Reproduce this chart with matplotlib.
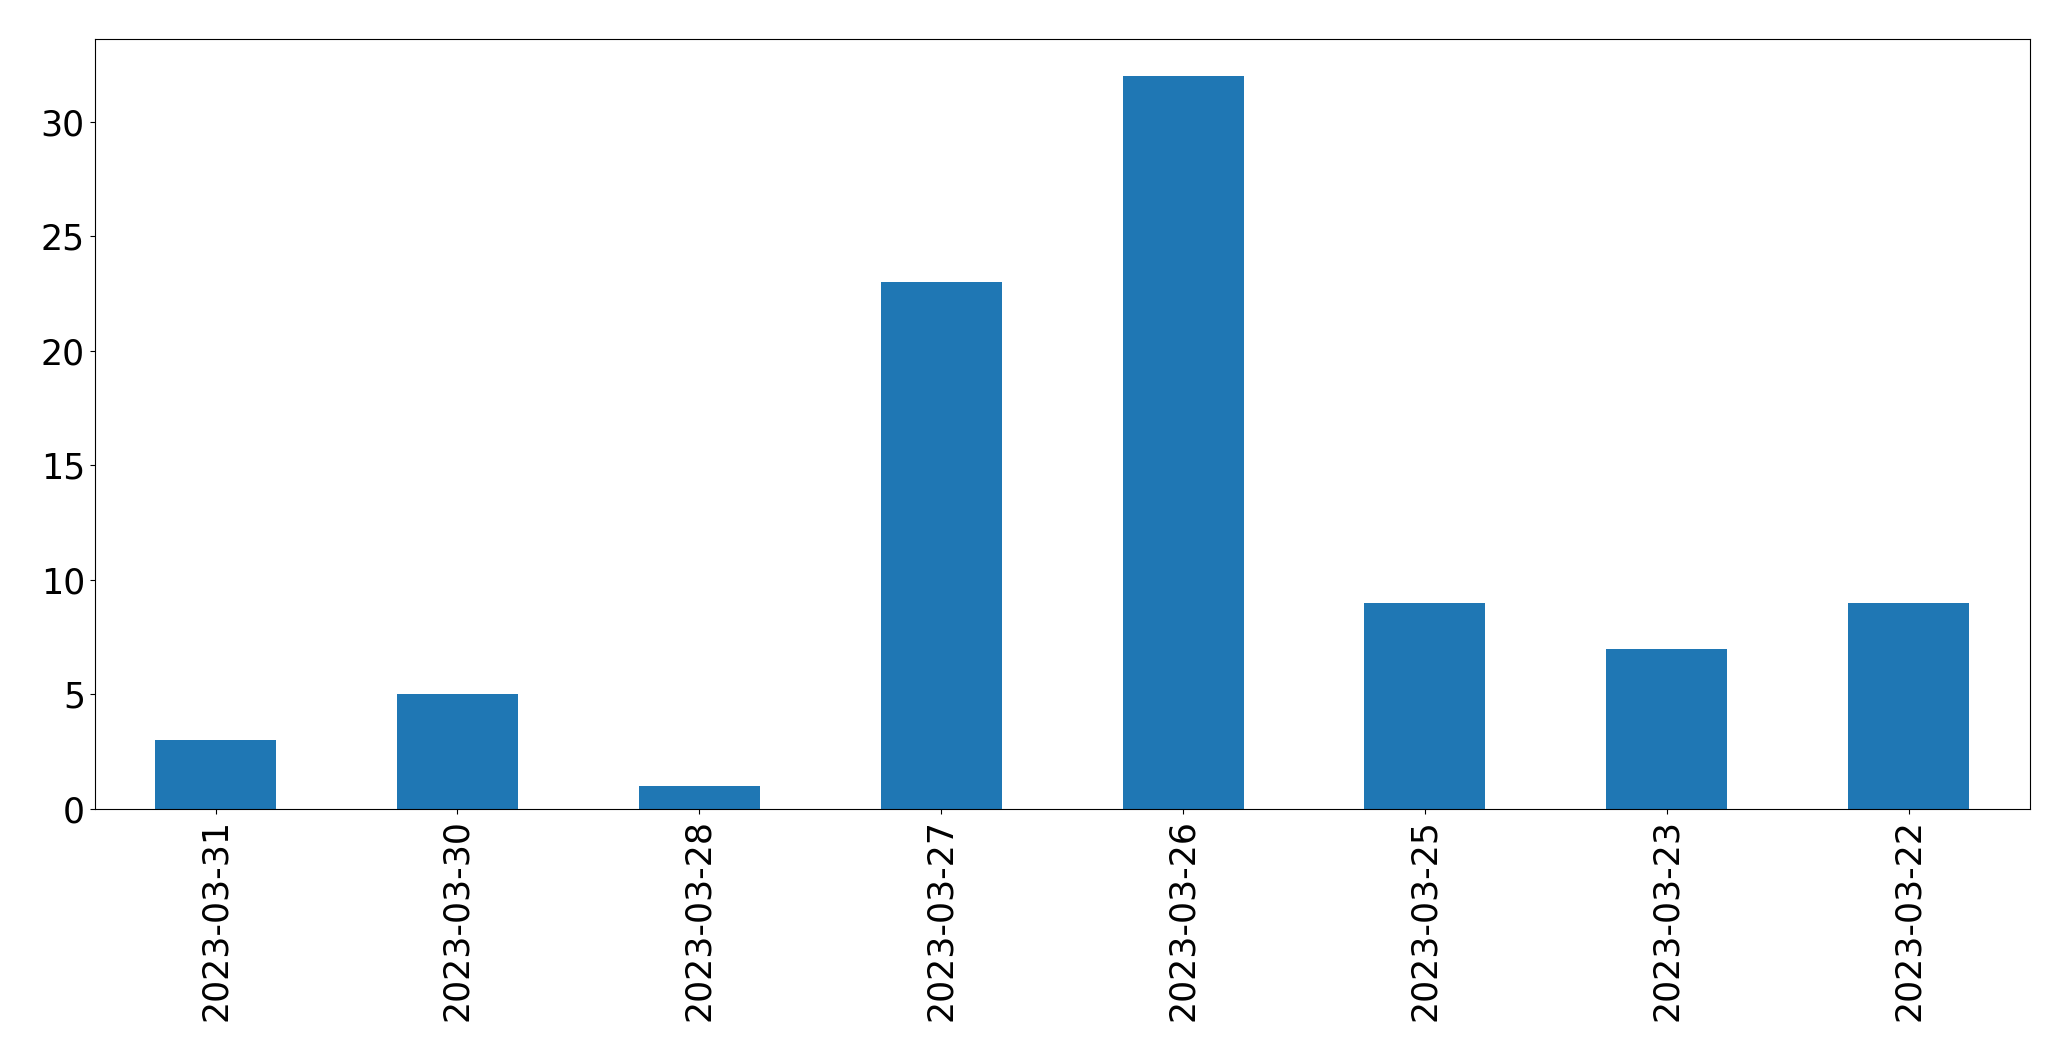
import matplotlib
matplotlib.use("Agg")
import matplotlib.pyplot as plt
import pandas as pd

# dates (as shown, newest first) and counts per day
dates = ["2023-03-31", "2023-03-30", "2023-03-28", "2023-03-27",
         "2023-03-26", "2023-03-25", "2023-03-23", "2023-03-22"]
counts = [3, 5, 1, 23, 32, 9, 7, 9]

s = pd.Series(counts, index=dates)

fig, ax = plt.subplots(figsize=(20.71, 10.61), dpi=100)
s.plot(kind="bar", ax=ax, color="#1f77b4", fontsize=25)
ax.tick_params(axis="both", labelsize=25)

fig.subplots_adjust(left=0.0457, right=0.980, top=0.9632, bottom=0.2375)
fig.savefig("out.png", dpi=100)
